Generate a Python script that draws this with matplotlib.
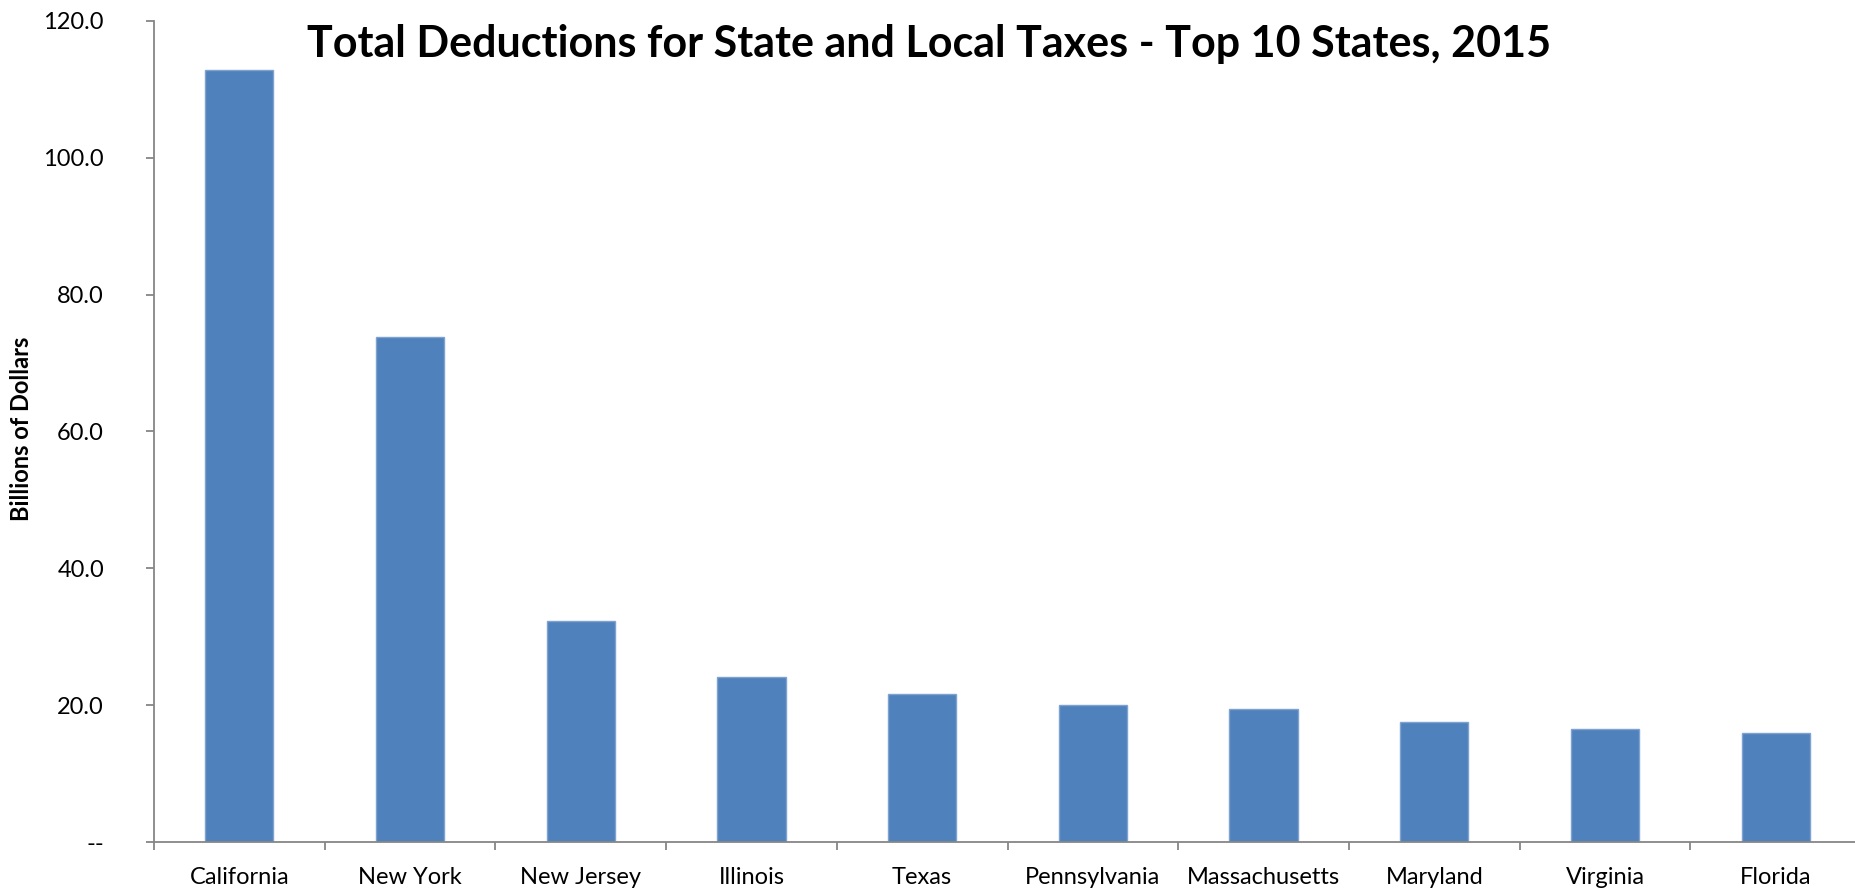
import matplotlib
matplotlib.use('Agg')
import matplotlib.pyplot as plt
import numpy as np

# top 10 states by SALT deductions, billions of dollars
states = ["California", "New York", "New Jersey", "Illinois", "Texas",
          "Pennsylvania", "Massachusetts", "Maryland", "Virginia", "Florida"]
deductions = [112.8, 73.8, 32.3, 24.1, 21.6, 20.0, 19.5, 17.6, 16.5, 16.0]
y_ticks = [0, 20, 40, 60, 80, 100, 120]
y_tick_labels = ["--", "20.0", "40.0", "60.0", "80.0", "100.0", "120.0"]

plt.rcParams['font.family'] = ['Lato', 'DejaVu Sans']

fig = plt.figure(figsize=(18.55, 8.88), dpi=100)
ax = fig.add_axes([154 / 1855, 46 / 888, 1707 / 1855, 821 / 888])

x = np.arange(len(states))
ax.bar(x, deductions, width=0.4, color='#4F81BD', edgecolor='#7FA3D1',
       linewidth=1.0, zorder=2)

ax.set_xlim(-0.5, len(states) - 0.5)
ax.set_ylim(0, 120)

# category boundaries get the tick marks, labels sit at bar centres
ax.set_xticks(np.arange(-0.5, len(states), 1.0))
ax.set_xticklabels([])
ax.set_xticks(x, minor=True)
ax.set_xticklabels(states, minor=True, fontsize=17)
ax.tick_params(axis='x', which='major', direction='out', length=6,
               width=1.3, color='#868686')
ax.tick_params(axis='x', which='minor', length=0, pad=18)

ax.set_yticks(y_ticks)
ax.set_yticklabels(y_tick_labels, fontsize=17)
ax.tick_params(axis='y', direction='out', length=6, width=1.3,
               color='#868686', pad=30)

for side in ('top', 'right'):
    ax.spines[side].set_visible(False)
for side in ('left', 'bottom'):
    ax.spines[side].set_color('#868686')
    ax.spines[side].set_linewidth(1.3)

fig.text(22 / 1855, 1 - 429 / 888, "Billions of Dollars", fontsize=17,
         fontweight='bold', rotation=90, ha='center', va='center')

fig.text(929 / 1855, 1 - 44 / 888,
         "Total Deductions for State and Local Taxes - Top 10 States, 2015",
         fontsize=31, fontweight='bold', ha='center', va='center')

fig.savefig("out.png", dpi=100)
